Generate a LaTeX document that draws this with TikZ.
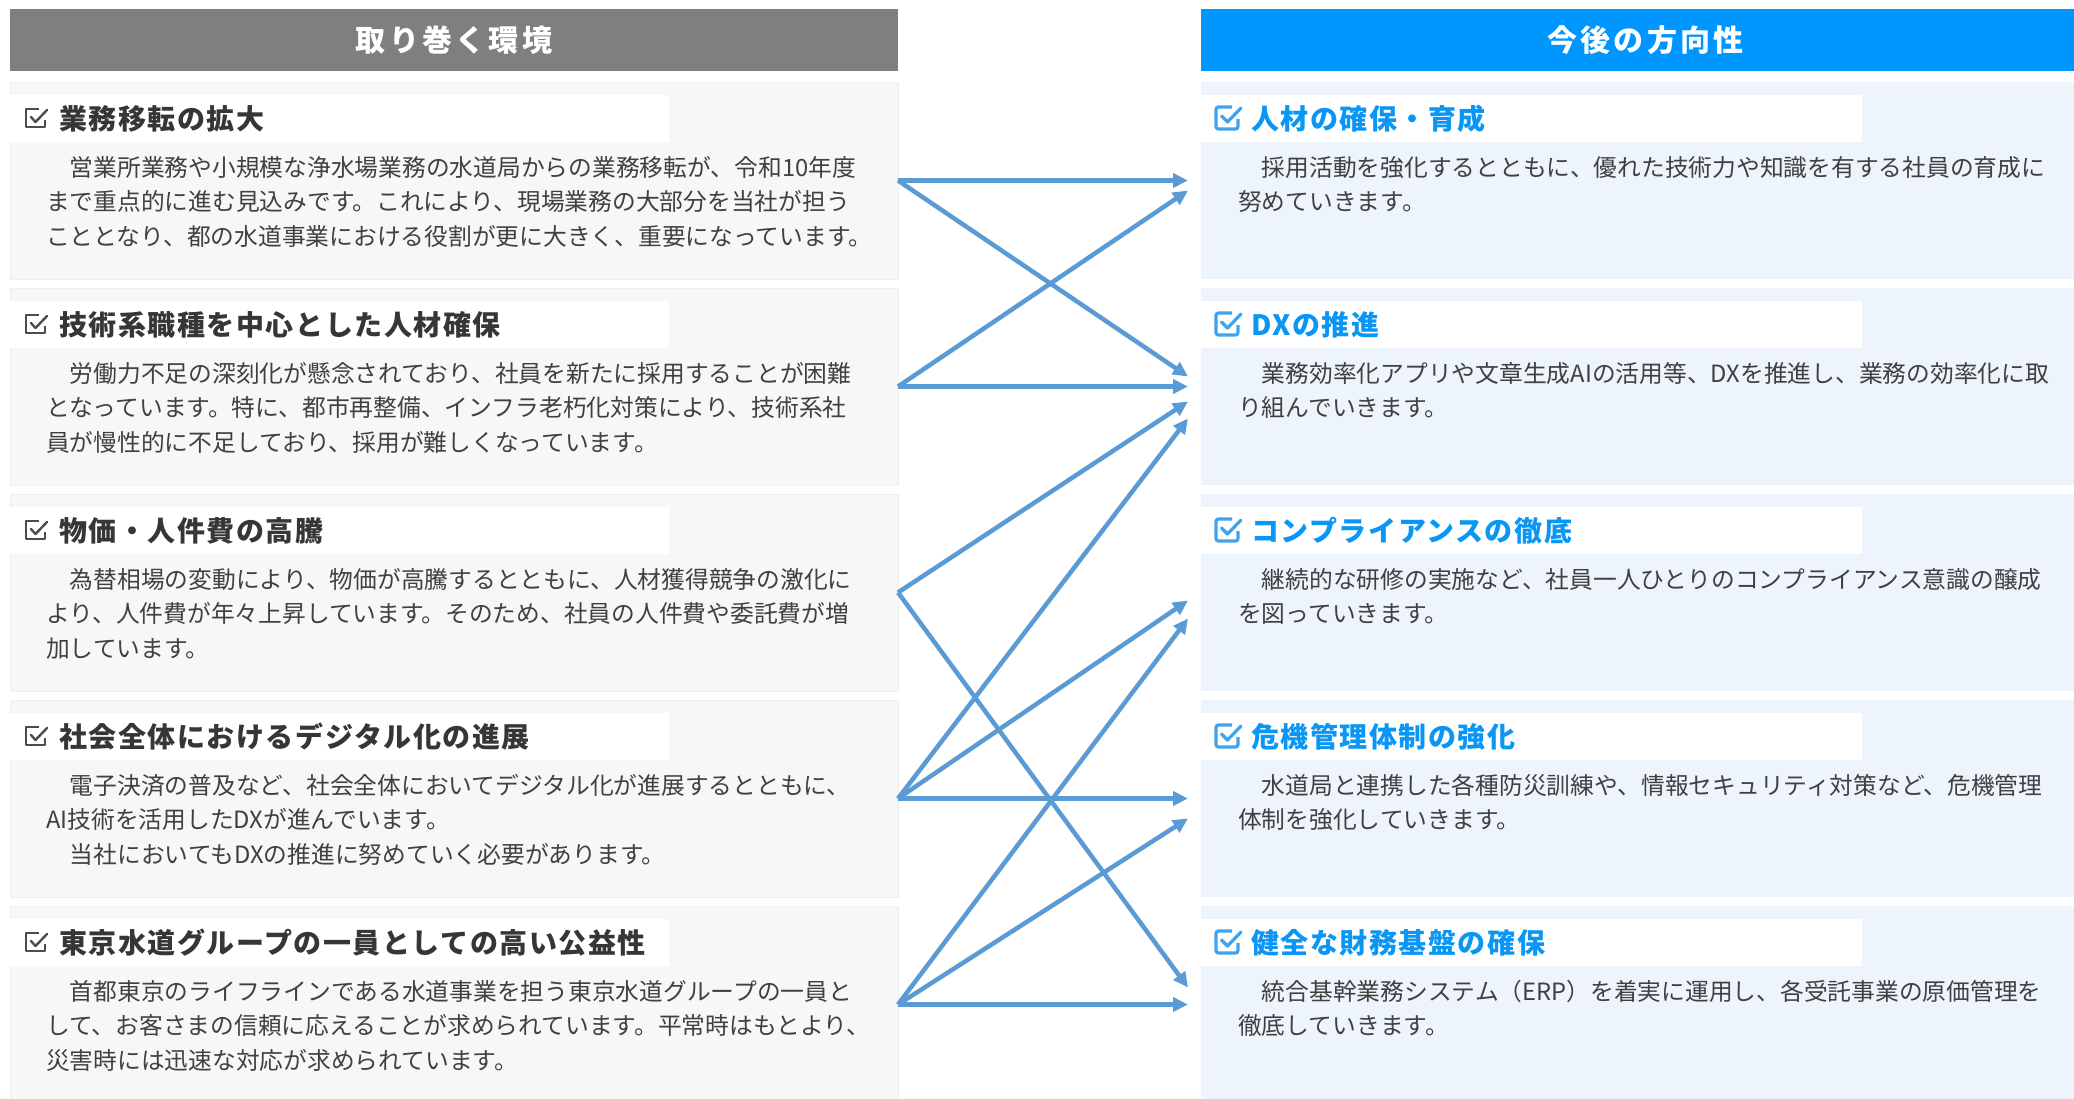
\documentclass[tikz,border=0pt]{standalone}
\usepackage{fontspec}
\setmainfont{Noto Sans CJK JP}
\newfontfamily\titlefont{Noto Sans CJK JP}[LetterSpace=5.5]
\newfontfamily\headfont{Noto Sans CJK JP}[LetterSpace=11]
\usetikzlibrary{arrows.meta,calc}
\definecolor{hgray}{HTML}{7F7F7F}
\definecolor{hblue}{HTML}{0096FF}
\definecolor{lbg}{HTML}{F7F7F7}
\definecolor{lbd}{HTML}{EEEEEE}
\definecolor{rbg}{HTML}{EDF4FB}
\definecolor{txt}{HTML}{404040}
\definecolor{ltit}{HTML}{363636}
\definecolor{rtit}{HTML}{0A96F5}
\definecolor{arr}{HTML}{5B9BD5}
\definecolor{chkg}{HTML}{4D4D4D}
\definecolor{chkb}{HTML}{3FA3EE}
\tikzset{
  lcard/.style={draw=lbd, line width=0.8pt, fill=lbg, minimum width=888pt, minimum height=197pt, inner sep=0pt, outer sep=0pt},
  rcard/.style={fill=rbg, minimum width=889pt, minimum height=197pt, inner sep=0pt, outer sep=0pt},
  headbox/.style={minimum height=62pt, inner sep=0pt, outer sep=0pt, text=white, font=\fontsize{30}{33}\headfont\bfseries},
  ltitle/.style={anchor=base west, inner sep=0pt, text=ltit, font=\fontsize{28}{31}\titlefont\bfseries},
  rtitle/.style={anchor=base west, inner sep=0pt, text=rtit, font=\fontsize{28}{31}\titlefont\bfseries},
  bodytext/.style={anchor=base west, inner sep=0pt, text=txt, font=\fontsize{23.75}{34.5}\selectfont},
  arrowline/.style={draw=arr, line width=4.5pt, -{Triangle[length=15pt,width=14pt]}}
}
\newcommand\chkL[1]{%
  \draw[chkg, line width=2.4pt, line join=round] (39,#1+27) -- (26,#1+27) -- (26,#1+45) -- (45,#1+45) -- (45,#1+38);
  \draw[chkg, line width=2.4pt, line cap=round, line join=round] (31,#1+35) -- (35.5,#1+40) -- (47,#1+28);}
\newcommand\chkR[1]{%
  \draw[chkb, line width=3.2pt, rounded corners=2.5pt] (1232,#1+25) -- (1216,#1+25) -- (1216,#1+47) -- (1238,#1+47) -- (1238,#1+37);
  \draw[chkb, line width=3.2pt, line cap=round, line join=round] (1221.5,#1+34) -- (1227.5,#1+40) -- (1241,#1+26);}
\newcommand\LeftCard[4]{%
  \node[lcard] (#1) at (454,#2+98.5) {};
  \fill[white] (10,#2+13) rectangle (669,#2+60);
  \chkL{#2}
  \node[ltitle] (#1t) at (59,#2+47) {#3};
  \node[bodytext] (#1b) at (46,#2+94) {\parbox[t]{900pt}{#4}};}
\newcommand\RightCard[4]{%
  \node[rcard] (#1) at (1645.5,#2+98.5) {};
  \fill[white] (1201,#2+13) rectangle (1862,#2+60);
  \chkR{#2}
  \node[rtitle] (#1t) at (1251,#2+47) {#3};
  \node[bodytext] (#1b) at (1238,#2+94) {\parbox[t]{900pt}{#4}};}
\begin{document}
\begin{tikzpicture}[x=1pt,y=-1pt]
\useasboundingbox (0,0) rectangle (2074,1098);
\fill[white] (0,0) rectangle (2074,1098);
\clip (0,0) rectangle (2074,1098);
% headers
\node[headbox, fill=hgray, minimum width=888pt] (H1) at (454,40) {取り巻く環境};
\node[headbox, fill=hblue, minimum width=889pt] (H2) at (1645.5,40) {今後の方向性};
% left cards
\LeftCard{L1}{82}{業務移転の拡大}{　営業所業務や小規模な浄水場業務の水道局からの業務移転が、令和10年度\\まで重点的に進む見込みです。これにより、現場業務の大部分を当社が担う\\こととなり、都の水道事業における役割が更に大きく、重要になっています。}
\LeftCard{L2}{288}{技術系職種を中心とした人材確保}{　労働力不足の深刻化が懸念されており、社員を新たに採用することが困難\\となっています。特に、都市再整備、インフラ老朽化対策により、技術系社\\員が慢性的に不足しており、採用が難しくなっています。}
\LeftCard{L3}{494}{物価・人件費の高騰}{　為替相場の変動により、物価が高騰するとともに、人材獲得競争の激化に\\より、人件費が年々上昇しています。そのため、社員の人件費や委託費が増\\加しています。}
\LeftCard{L4}{700}{社会全体におけるデジタル化の進展}{　電子決済の普及など、社会全体においてデジタル化が進展するとともに、\\AI技術を活用したDXが進んでいます。\\　当社においてもDXの推進に努めていく必要があります。}
\LeftCard{L5}{906}{東京水道グループの一員としての高い公益性}{　首都東京のライフラインである水道事業を担う東京水道グループの一員と\\して、お客さまの信頼に応えることが求められています。平常時はもとより、\\災害時には迅速な対応が求められています。}
% right cards
\RightCard{R1}{82}{人材の確保・育成}{　採用活動を強化するとともに、優れた技術力や知識を有する社員の育成に\\努めていきます。}
\RightCard{R2}{288}{DXの推進}{　業務効率化アプリや文章生成AIの活用等、DXを推進し、業務の効率化に取\\り組んでいきます。}
\RightCard{R3}{494}{コンプライアンスの徹底}{　継続的な研修の実施など、社員一人ひとりのコンプライアンス意識の醸成\\を図っていきます。}
\RightCard{R4}{700}{危機管理体制の強化}{　水道局と連携した各種防災訓練や、情報セキュリティ対策など、危機管理\\体制を強化していきます。}
\RightCard{R5}{906}{健全な財務基盤の確保}{　統合基幹業務システム（ERP）を着実に運用し、各受託事業の原価管理を\\徹底していきます。}
% arrows
\draw[arrowline] (L1.east) -- ($(R1.west)+(-13,0)$);
\draw[arrowline] (L1.east) -- ($(R2.west)+(-13,-10)$);
\draw[arrowline] (L2.east) -- ($(R1.west)+(-13,10)$);
\draw[arrowline] (L2.east) -- ($(R2.west)+(-13,0)$);
\draw[arrowline] (L3.east) -- ($(R2.west)+(-13,15)$);
\draw[arrowline] (L3.east) -- ($(R5.west)+(-13,-17)$);
\draw[arrowline] (L4.east) -- ($(R2.west)+(-13,32)$);
\draw[arrowline] (L4.east) -- ($(R3.west)+(-13,8)$);
\draw[arrowline] (L4.east) -- ($(R4.west)+(-13,0)$);
\draw[arrowline] (L5.east) -- ($(R3.west)+(-13,26)$);
\draw[arrowline] (L5.east) -- ($(R4.west)+(-13,20)$);
\draw[arrowline] (L5.east) -- ($(R5.west)+(-13,0)$);
\end{tikzpicture}
\end{document}
